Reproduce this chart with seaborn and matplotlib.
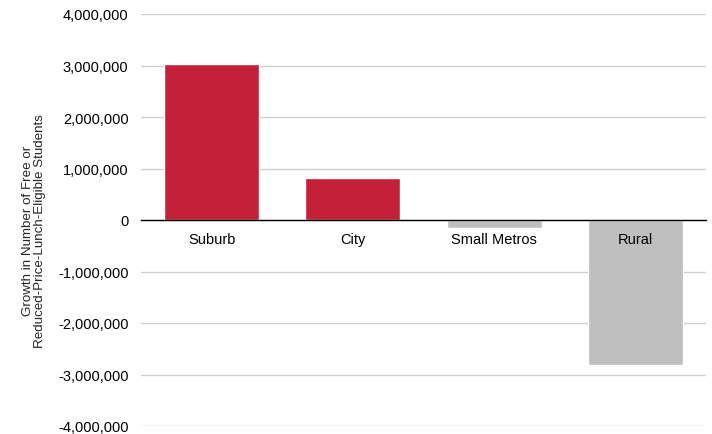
import matplotlib
matplotlib.use("Agg")
import matplotlib.pyplot as plt
import matplotlib.ticker as mticker
import matplotlib.transforms as mtransforms
import seaborn as sns
import pandas as pd

categories = ["Suburb", "City", "Small Metros", "Rural"]
growth = [3030000, 820000, -160000, -2810000]
y_ticks = [-4000000, -3000000, -2000000, -1000000, 0, 1000000, 2000000, 3000000, 4000000]

RED = "#C3203A"
GRAY = "#BFBFBF"

sns.set_theme(style="white")
plt.rcParams["font.family"] = ["Liberation Sans", "DejaVu Sans"]

df = pd.DataFrame({"area": categories, "growth": growth})
colors = [RED if v >= 0 else GRAY for v in growth]

fig = plt.figure(figsize=(7.12, 4.35), dpi=100)
ax = fig.add_axes([141 / 712, 1 - 427 / 435, (706 - 141) / 712, (427 - 15) / 435])

sns.barplot(data=df, x="area", y="growth", hue="area", palette=colors,
            legend=False, width=0.672, saturation=1, ax=ax, zorder=2)

ax.set_ylim(-4000000, 4000000)
ax.set_xlim(-0.5, 3.5)
ax.set_yticks(y_ticks)
ax.yaxis.set_major_formatter(mticker.FuncFormatter(lambda v, _: f"{int(v):,}"))
ax.yaxis.grid(True, color="#D0D0D0", linewidth=1)
ax.set_axisbelow(True)

for side in ["top", "right", "left"]:
    ax.spines[side].set_visible(False)
ax.spines["bottom"].set_position(("data", 0))
ax.spines["bottom"].set_color("black")
ax.spines["bottom"].set_linewidth(1)
ax.spines["bottom"].set_zorder(3)

ax.tick_params(axis="y", length=0, pad=9, labelsize=10.5, colors="black")
ax.set_xticks(range(len(categories)))
ax.tick_params(axis="x", which="major", length=0, labelbottom=False)
ax.set_xticks([-0.5, 0.5, 1.5, 2.5, 3.5], minor=True)
ax.tick_params(axis="x", which="minor", length=4, width=1, color="black", direction="out")

# category names sit just under the zero line, drawn above the bars
offset = mtransforms.offset_copy(ax.transData, fig=fig, x=0, y=-9, units="points")
for i, name in enumerate(categories):
    ax.text(i, 0, name, transform=offset, ha="center", va="top",
            fontsize=10.5, color="black", zorder=5)

ax.set_xlabel("")
ax.set_ylabel("Growth in Number of Free or\nReduced-Price-Lunch-Eligible Students",
              fontsize=9.6, linespacing=1.0)
ax.yaxis.set_label_coords(-0.168, 0.476)

fig.savefig("out.png", dpi=100)
